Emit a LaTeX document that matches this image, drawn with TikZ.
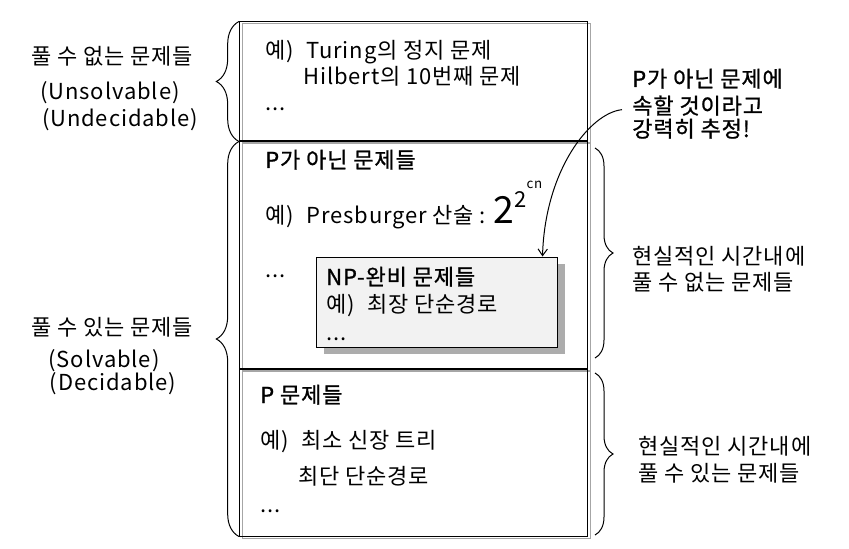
\documentclass[tikz,border=0pt]{standalone}
\usepackage{fontspec}
\setmainfont{Noto Sans CJK KR}[LetterSpace=4]
\newfontfamily\krsemi{Noto Sans CJK KR}[FakeBold=1,LetterSpace=4]
\newcommand\yeo{예)\hspace{5pt} }
\usetikzlibrary{decorations.pathreplacing,shadows,arrows.meta,calc}
\begin{document}
\begin{tikzpicture}[x=0.75pt,y=-0.75pt,
  txt/.style={anchor=base west, inner sep=0pt, font=\fontsize{16.5}{19}\selectfont},
  ctxt/.style={anchor=base, inner sep=0pt, font=\fontsize{16.5}{19}\selectfont},
  stxt/.style={anchor=base west, inner sep=0pt, font=\fontsize{16.5}{19}\selectfont\krsemi},
  bigbox/.style={draw=black, line width=0.75pt, minimum width=348*0.75pt, inner sep=0pt},
  ghost/.style={draw=gray!70, line width=0.75pt},
  npbox/.style={draw=black, line width=0.75pt, fill=gray!10, minimum width=241*0.75pt, minimum height=90*0.75pt, inner sep=0pt,
    drop shadow={shadow xshift=6pt, shadow yshift=-5.25pt, fill=gray!65, opacity=1}},
  brc/.style={decorate, decoration={brace, amplitude=#1}, line width=0.75pt},
]
\useasboundingbox (0,0) rectangle (849,549);

% gray offset frames
\draw[ghost] (242,24) rectangle (590,143);
\draw[ghost] (242,144) rectangle (590,370);
\draw[ghost] (242,371) rectangle (590,538);

% main boxes
\node[bigbox, minimum height=119*0.75pt] (b1) at (413.5,81.5) {};
\node[bigbox, minimum height=226*0.75pt] (b2) at (413.5,255) {};
\node[bigbox, minimum height=167*0.75pt] (b3) at (413.5,452.5) {};

% NP box
\node[npbox] (np) at (436.5,302) {};

% box 1 text
\node[txt] (t1a) at (265,59) {\yeo Turing의 정지 문제};
\node[txt] (t1b) at (303,85) {Hilbert의 10번째 문제};
\node[txt] (t1c) at (265,111) {...};

% box 2 text
\node[stxt] (t2a) at (265,168) {P가 아닌 문제들};
\node[txt] (t2b) at (265,223) {\yeo Presburger 산술 : {\fontsize{28}{28}\selectfont 2}\raisebox{12pt}{2}\raisebox{26pt}{\fontsize{10}{10}\selectfont cn}};
\node[txt] (t2c) at (265,277) {...};

% NP box text
\node[stxt] (npa) at (326,285) {NP-완비 문제들};
\node[txt] (npb) at (326,312) {\yeo 최장 단순경로};
\node[txt] (npc) at (326,340) {...};

% box 3 text
\node[stxt] (t3a) at (260,403) {P 문제들};
\node[txt] (t3b) at (260,448) {\yeo 최소 신장 트리};
\node[txt] (t3c) at (298,484) {최단 단순경로};
\node[txt] (t3d) at (260,512) {...};

% left labels
\node[ctxt] (l1a) at (112,65) {풀 수 없는 문제들};
\node[ctxt] (l1b) at (110,100) {(Unsolvable)};
\node[ctxt] (l1c) at (120,127) {(Undecidable)};
\node[ctxt] (l2a) at (112,335) {풀 수 있는 문제들};
\node[ctxt] (l2b) at (104,367) {(Solvable)};
\node[ctxt] (l2c) at (113,390) {(Decidable)};

% right labels
\node[stxt] (g1) at (632,87) {P가 아닌 문제에};
\node[stxt] (g2) at (632,114) {속할 것이라고};
\node[stxt] (g3) at (632,137) {강력히 추정!};
\node[txt] (r1a) at (632,264) {현실적인 시간내에};
\node[txt] (r1b) at (632,290) {풀 수 없는 문제들};
\node[txt] (r2a) at (638,454) {현실적인 시간내에};
\node[txt] (r2b) at (638,481) {풀 수 있는 문제들};

% braces
\draw[brc=17pt] (b1.south west) -- (b1.north west);
\draw[brc=17pt] (b3.south west) -- (b2.north west);
\draw[brc=13.5pt] (595,148) -- (595,358);
\draw[brc=13.5pt] (595,373) -- (595,535);

% arrow
\draw[-{Straight Barb[length=5pt,width=7pt]}, line width=0.75pt]
  ($(g2.west)+(-10,4)$) .. controls (590,113) and (545,170) .. ($(np.north east)+(-15,0)$);
\end{tikzpicture}
\end{document}
